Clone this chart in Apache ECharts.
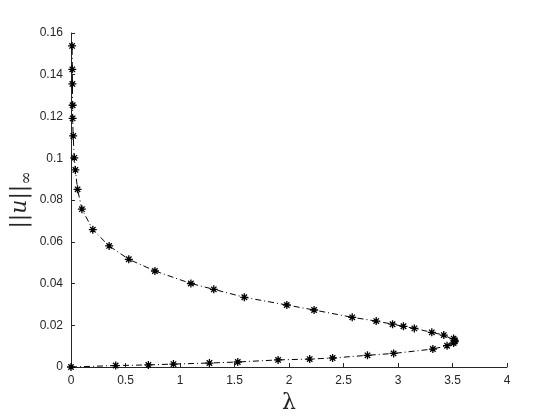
<!DOCTYPE html>
<html>
<head>
<meta charset="utf-8">
<script src="https://cdn.jsdelivr.net/npm/echarts@6/dist/echarts.min.js"></script>
<style>
  html, body { margin: 0; padding: 0; background: #fff; }
</style>
</head>
<body>
<div id="main" style="width: 560px; height: 420px;"></div>
<script>
// continuation path: lower branch out to the fold, then upper branch back
var lambdaVals = [0, 0.41, 0.71, 0.94, 1.27, 1.53, 1.90, 2.19, 2.40, 2.72, 2.96, 3.32, 3.45, 3.51, 3.52, 3.52, 3.51,
  3.42, 3.31, 3.15, 3.05, 2.95, 2.80, 2.58, 2.23, 1.98, 1.59, 1.31, 1.10, 0.77, 0.53, 0.35, 0.20, 0.10, 0.06,
  0.04, 0.03, 0.02, 0.015, 0.015, 0.013, 0.012, 0.01];
var uNorm = [0, 0.0007, 0.0010, 0.0014, 0.0019, 0.0024, 0.0034, 0.0038, 0.0043, 0.0056, 0.0065, 0.0086, 0.0102, 0.0115, 0.0122, 0.0128, 0.0136,
  0.0153, 0.0166, 0.0185, 0.0195, 0.0205, 0.0220, 0.0238, 0.0273, 0.0297, 0.0334, 0.0372, 0.0400, 0.0460, 0.0516, 0.0580, 0.0658, 0.0756, 0.0851,
  0.0944, 0.1002, 0.1107, 0.1191, 0.1254, 0.1356, 0.1426, 0.1538];

var pts = lambdaVals.map(function (l, i) { return [l, uNorm[i]]; });

var chart = echarts.init(document.getElementById("main"));
var axisCol = "#262626";
var star = "path://M0,5L10,5M5,0L5,10M1.6,1.6L8.4,8.4M8.4,1.6L1.6,8.4";

var option = {
  animation: false,
  backgroundColor: "#fff",
  grid: { left: 71, right: 53, top: 33, bottom: 53, containLabel: false, outerBoundsMode: "none" },
  xAxis: {
    type: "value",
    min: 0, max: 4, interval: 0.5,
    name: "λ",
    nameLocation: "middle",
    nameGap: 25,
    nameMoveOverlap: false,
    nameTextStyle: { fontFamily: "DejaVu Serif", fontSize: 22, color: axisCol },
    axisLine: { onZero: false, lineStyle: { color: axisCol, width: 1 } },
    axisTick: { inside: true, length: 4, lineStyle: { color: axisCol } },
    axisLabel: { color: axisCol, fontFamily: "Liberation Sans", fontSize: 12, margin: 8 },
    splitLine: { show: false }
  },
  yAxis: {
    type: "value",
    min: 0, max: 0.16, interval: 0.02,
    name: "{b|||}{u|u}{b|||}{s|∞}",
    nameLocation: "middle",
    nameGap: 36,
    nameMoveOverlap: false,
    nameRotate: 90,
    nameTextStyle: {
      color: axisCol,
      lineHeight: 30,
      rich: {
        b: { fontFamily: "DejaVu Serif", fontSize: 22, lineHeight: 30, color: axisCol },
        u: { fontFamily: "DejaVu Serif", fontStyle: "italic", fontSize: 22, lineHeight: 30, color: axisCol },
        s: { fontFamily: "DejaVu Serif", fontSize: 16, lineHeight: 16, verticalAlign: "bottom", color: axisCol }
      }
    },
    axisLine: { show: true, lineStyle: { color: axisCol, width: 1 } },
    axisTick: { show: true, inside: true, length: 4, lineStyle: { color: axisCol } },
    axisLabel: { color: axisCol, fontFamily: "Liberation Sans", fontSize: 12, margin: 8 },
    splitLine: { show: false }
  },
  series: [{
    type: "line",
    data: pts,
    symbol: star,
    symbolSize: 8,
    showAllSymbol: true,
    lineStyle: { color: "#000", width: 1, type: [6, 3, 1, 3] },
    itemStyle: { color: "#000", borderColor: "#000", borderWidth: 1.3 }
  }]
};
chart.setOption(option);
</script>
</body>
</html>
